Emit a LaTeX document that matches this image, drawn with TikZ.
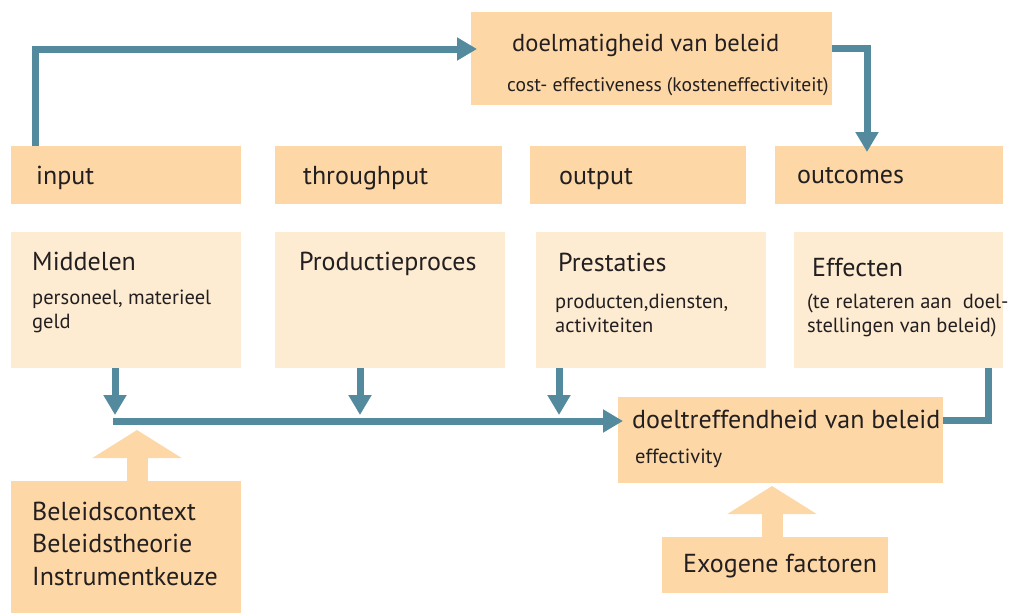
\documentclass[tikz,border=0pt]{standalone}
\usepackage{fontspec}
\setmainfont{PT Sans}
\usetikzlibrary{arrows.meta}

\definecolor{peach}{RGB}{253,216,166}
\definecolor{cream}{RGB}{253,236,210}
\definecolor{steel}{RGB}{84,138,158}
\definecolor{ink}{RGB}{35,31,32}

\begin{document}
\begin{tikzpicture}[x=1pt,y=-1pt,
  panel/.style={rectangle, inner sep=0pt, outer sep=0pt, anchor=north west, draw=none},
  strong/.style={panel, fill=peach},
  soft/.style={panel, fill=cream},
  lbl/.style={inner sep=0pt, anchor=base west, text=ink},
  big/.style={lbl, font=\fontsize{26}{32.5}\selectfont},
  small/.style={lbl, font=\fontsize{20.5}{23.5}\selectfont},
  conn/.style={draw=steel, line width=7pt},
  tip/.style={-{Triangle[width=22pt,length=20pt]}},
  fat/.style={draw=peach, line width=21pt, -{Triangle[width=88pt,length=28pt]}}
]
\useasboundingbox (0,0) rectangle (1013,613);

% boxes
\node[strong, minimum width=361pt, minimum height=93pt] (doel)   at (471,12)  {};
\node[strong, minimum width=230pt, minimum height=58pt] (inhead) at (11,146)  {};
\node[strong, minimum width=227pt, minimum height=58pt] (thrhead) at (275,146) {};
\node[strong, minimum width=216pt, minimum height=58pt] (outhead) at (530,146) {};
\node[strong, minimum width=228pt, minimum height=58pt] (ochead) at (775,146) {};
\node[soft, minimum width=230pt, minimum height=136pt] (mid)   at (11,232)  {};
\node[soft, minimum width=230pt, minimum height=136pt] (prod)  at (275,232) {};
\node[soft, minimum width=230pt, minimum height=136pt] (prest) at (536,232) {};
\node[soft, minimum width=209pt, minimum height=136pt] (eff)   at (794,232) {};
\node[strong, minimum width=325pt, minimum height=86pt] (doeltr) at (618,397) {};
\node[strong, minimum width=230pt, minimum height=132pt] (context) at (11,481) {};
\node[strong, minimum width=226pt, minimum height=56pt] (exo) at (662,537) {};

% texts (multi-line nodes are placed by the baseline of their last line)
\node[lbl, font=\fontsize{24.5}{29}\selectfont] (t-doel) at (512,51) {doelmatigheid van beleid};
\node[lbl, font=\fontsize{19.6}{23}\selectfont] (t-cost) at (507,91) {cost- effectiveness (kosteneffectiviteit)};
\node[big] (t-in) at (36,184) {input};
\node[big] (t-thr) at (303,184) {throughput};
\node[big] (t-out) at (559,184) {output};
\node[big] (t-oc) at (797,183) {outcomes};
\node[big] (t-mid) at (32,270) {Middelen};
\node[small, align=left] (t-mid2) at (32,328) {personeel, materieel\\geld};
\node[big] (t-prod) at (299,270) {Productieproces};
\node[big] (t-prest) at (558,271) {Prestaties};
\node[small, align=left] (t-prest2) at (555,332) {producten,diensten,\\activiteiten};
\node[big] (t-eff) at (812,276) {Effecten};
\node[small, align=left] (t-eff2) at (807,332) {(te relateren aan\ \ doel-\\stellingen van beleid)};
\node[big] (t-dt) at (632,428) {doeltreffendheid van beleid};
\node[small] (t-dt2) at (635,463) {effectivity};
\node[big, align=left] (t-ctx) at (32,585) {Beleidscontext\\Beleidstheorie\\Instrumentkeuze};
\node[big] (t-exo) at (683,572) {Exogene factoren};

% connectors
\coordinate (busL) at (113,421);
\draw[conn, tip] ([xshift=24pt]inhead.north west) |- ([xshift=6pt,yshift=9.5pt]doel.west);
\draw[conn, tip] ([yshift=10pt]doel.east) -| ([xshift=-22pt,yshift=-6pt]ochead.north);
\draw[conn, tip] ([xshift=-11pt]mid.south) -- ([xshift=-11pt,yshift=6pt]mid.south |- busL);
\draw[conn, tip] ([xshift=-30pt]prod.south) -- ([xshift=-30pt,yshift=6pt]prod.south |- busL);
\draw[conn, tip] ([xshift=-92pt]prest.south) -- ([xshift=-92pt,yshift=6pt]prest.south |- busL);
\draw[conn, tip] (busL) -- ([xshift=5pt]busL -| doeltr.west);
\draw[conn] ([xshift=89.5pt]eff.south) |- ([yshift=19.5pt]doeltr.east);

% context arrows
\draw[fat] ([xshift=11pt]context.north) -- ([xshift=11pt,yshift=-9pt]context.north |- busL);
\draw[fat] ([xshift=-3pt]exo.north) -- ([xshift=-3pt,yshift=-3pt]exo.north |- doeltr.south);
\end{tikzpicture}
\end{document}
